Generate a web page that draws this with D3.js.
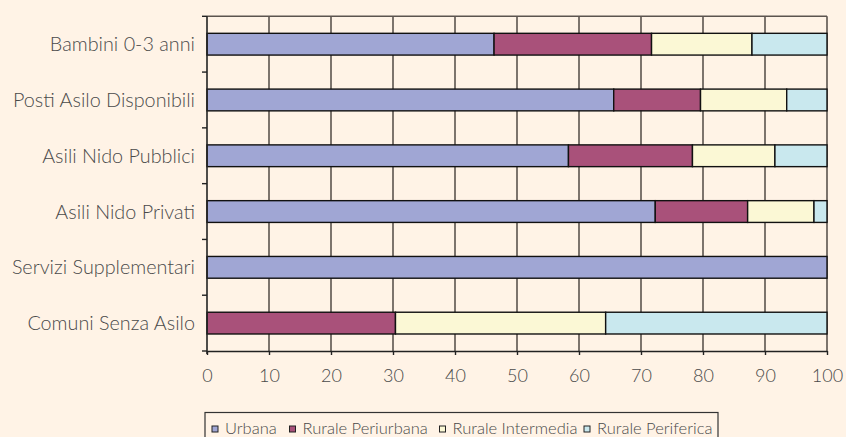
<!DOCTYPE html>
<html>
<head>
<meta charset="utf-8">
<script src="https://cdn.jsdelivr.net/npm/d3@7"></script>
<style>
  html, body { margin: 0; padding: 0; background: #FFF3E6; }
  svg { display: block; }
  text { font-family: "Lato", "Open Sans", sans-serif; font-weight: 300; fill: #4a4a4a; }
</style>
</head>
<body>
<svg id="chart" width="846" height="437"></svg>
<script>
// Categories (top to bottom)
const categories = [
  "Bambini 0-3 anni",
  "Posti Asilo Disponibili",
  "Asili Nido Pubblici",
  "Asili Nido Privati",
  "Servizi Supplementari",
  "Comuni Senza Asilo"
];

// Share (%) of each category by area type
const urbana      = [46.3, 65.6, 58.3, 72.3, 100, 0];
const periurbana  = [25.4, 14.0, 20.0, 14.9, 0, 30.4];
const intermedia  = [16.2, 13.9, 13.3, 10.7, 0, 33.9];
const periferica  = [12.1,  6.5,  8.4,  2.1, 0, 35.7];

const seriesNames = ["Urbana", "Rurale Periurbana", "Rurale Intermedia", "Rurale Periferica"];
const seriesColors = ["#A0A6D4", "#A9517A", "#FBF8D5", "#C9E8EE"];
const xTicks = [0, 10, 20, 30, 40, 50, 60, 70, 80, 90, 100];

const rows = categories.map((c, i) => ({
  cat: c,
  "Urbana": urbana[i],
  "Rurale Periurbana": periurbana[i],
  "Rurale Intermedia": intermedia[i],
  "Rurale Periferica": periferica[i]
}));
const stacked = d3.stack().keys(seriesNames)(rows);

const svg = d3.select("#chart");
const plot = { left: 207, right: 827, top: 16.3, bottom: 351 };

const x = d3.scaleLinear().domain([0, 100]).range([plot.left, plot.right]);
const y = d3.scaleBand().domain(categories).range([plot.top, plot.bottom])
  .paddingInner(0.61).paddingOuter(0.305);
const color = d3.scaleOrdinal().domain(seriesNames).range(seriesColors);

// vertical gridlines
svg.append("g")
  .selectAll("line").data(xTicks.filter(t => t > 0)).join("line")
  .attr("x1", d => x(d)).attr("x2", d => x(d))
  .attr("y1", plot.top).attr("y2", plot.bottom)
  .attr("stroke", "#5c544e").attr("stroke-width", 1.6);

// top border line
svg.append("line")
  .attr("x1", plot.left).attr("x2", plot.right)
  .attr("y1", plot.top).attr("y2", plot.top)
  .attr("stroke", "#5c544e").attr("stroke-width", 1.6);

// stacked bars
svg.append("g")
  .selectAll("g").data(stacked).join("g")
  .attr("fill", d => color(d.key))
  .selectAll("rect").data(d => d.filter(s => s[1] - s[0] > 0)).join("rect")
  .attr("x", d => x(d[0]))
  .attr("y", d => y(d.data.cat))
  .attr("width", d => x(d[1]) - x(d[0]))
  .attr("height", y.bandwidth())
  .attr("stroke", "#111")
  .attr("stroke-width", 1.4);

// x axis
const xAxis = svg.append("g")
  .attr("transform", `translate(0,${plot.bottom})`)
  .call(d3.axisBottom(x).tickValues(xTicks).tickSize(4).tickSizeOuter(0).tickPadding(14));
xAxis.select(".domain").attr("stroke", "#222").attr("stroke-width", 1.6);
xAxis.selectAll(".tick line").attr("stroke", "#222").attr("stroke-width", 1.4);
xAxis.selectAll(".tick text")
  .attr("font-size", 18).attr("fill", "#4a4a4a")
  .style("font-family", "Lato, 'Open Sans', sans-serif").style("font-weight", 300);

// y axis: line with ticks at band boundaries
const boundaries = d3.range(categories.length + 1).map(i => plot.top + i * y.step());
svg.append("line")
  .attr("x1", plot.left).attr("x2", plot.left)
  .attr("y1", plot.top).attr("y2", plot.bottom + 3)
  .attr("stroke", "#222").attr("stroke-width", 1.6);
svg.append("g")
  .selectAll("line").data(boundaries).join("line")
  .attr("x1", plot.left - 5).attr("x2", plot.left)
  .attr("y1", d => d).attr("y2", d => d)
  .attr("stroke", "#222").attr("stroke-width", 1.4);

// category labels
svg.append("g")
  .selectAll("text").data(categories).join("text")
  .attr("x", plot.left - 12)
  .attr("y", d => y(d) + y.bandwidth() / 2)
  .attr("dy", "0.36em")
  .attr("text-anchor", "end")
  .attr("font-size", 19.8)
  .text(d => d);

// legend
const legend = svg.append("g");
legend.append("rect")
  .attr("x", 205).attr("y", 412.5).attr("width", 513).attr("height", 40)
  .attr("fill", "none").attr("stroke", "#333").attr("stroke-width", 1.2);
const legendX = [215, 292.5, 442.5, 587];
const items = legend.selectAll("g.item").data(seriesNames).join("g")
  .attr("class", "item")
  .attr("transform", (d, i) => `translate(${legendX[i]},0)`);
items.append("rect")
  .attr("x", -3).attr("y", 426).attr("width", 6).attr("height", 6)
  .attr("fill", d => color(d)).attr("stroke", "#222").attr("stroke-width", 1);
items.append("text")
  .attr("x", 10).attr("y", 434)
  .attr("font-size", 16.5)
  .text(d => d);
</script>
</body>
</html>
